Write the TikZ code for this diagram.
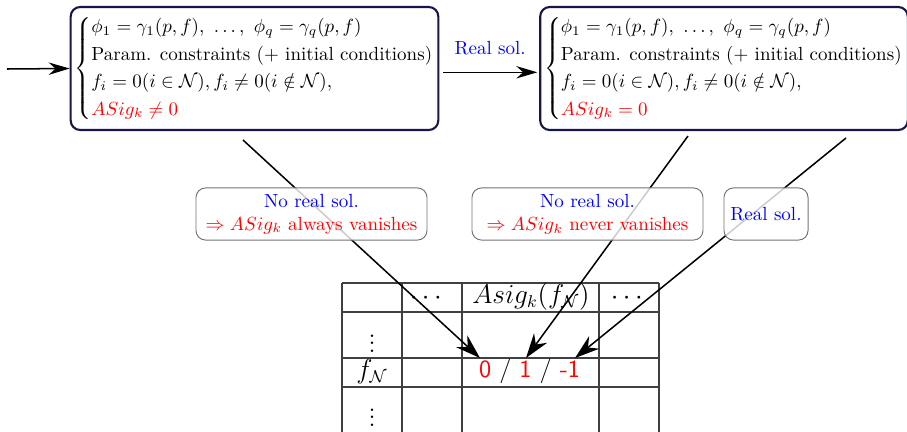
\documentclass[tikz,border=0pt]{standalone}
\usepackage{amsmath}
\usepackage{fontspec}
\usetikzlibrary{arrows.meta}
\definecolor{boxnavy}{rgb}{0.09,0.09,0.28}
\newcommand\mysys[1]{\left\{\def\arraystretch{1.2}\begin{array}{@{}l@{}}#1\end{array}\right.}
\tikzset{
  sysbox/.style={draw=boxnavy, line width=1.1pt, rounded corners=5pt, minimum height=64.7pt, inner sep=2pt},
  lblbox/.style={draw=black!55, line width=0.5pt, rounded corners=5pt, fill=white, fill opacity=0.8, text opacity=1, minimum height=27.4pt, align=center, inner sep=2pt},
  flow/.style={line width=0.8pt, -{Stealth[length=11pt,width=6.5pt]}},
  bigflow/.style={line width=0.8pt, -{Stealth[length=13pt,width=8.5pt]}},
  grid/.style={draw=black!75, line width=0.6pt},
  cell/.style={font=\fontsize{13.5}{16}\selectfont, inner sep=0pt}
}
\begin{document}
\begin{tikzpicture}[x=0.526pt,y=-0.526pt]
\clip (0,0) rectangle (907,431);
% table
\foreach \yy in {283,312,358,387} \draw[grid] (342,\yy) -- (659,\yy);
\foreach \xx in {342,402,462,599,659} \draw[grid] (\xx,283) -- (\xx,440);
\node[cell] (h1) at (428,298) {$\cdots$};
\node[cell] (h2) at (531,297) {$Asig_k(f_{\mathcal{N}})$};
\node[cell] (h3) at (629,298) {$\cdots$};
\node[cell] (r1) at (372,338) {$\vdots$};
\node[cell] (r2) at (372,372) {$f_{\mathcal{N}}$};
\node[cell] (r3) at (372,412) {$\vdots$};
\node[cell, font=\fontsize{13}{15}\selectfont\sffamily] (val) at (529.5,371) {\textcolor{red}{0} / \textcolor{red}{1} / \textcolor{red}{-1}};
% system boxes
\node[sysbox, minimum width=193pt] (b1) at (254.5,68.5) {$\mysys{
\phi_1=\gamma_1(p,f),\ \ldots,\ \phi_q=\gamma_q(p,f)\\
\text{Param. constraints (+ initial conditions)}\\
f_i=0(i\in\mathcal{N}), f_i\neq 0(i\notin\mathcal{N}),\\
\color{red}ASig_k\neq 0}$};
\node[sysbox, minimum width=191.5pt] (b2) at (724,68.5) {$\mysys{
\phi_1=\gamma_1(p,f),\ \ldots,\ \phi_q=\gamma_q(p,f)\\
\text{Param. constraints (+ initial conditions)}\\
f_i=0(i\in\mathcal{N}), f_i\neq 0(i\notin\mathcal{N}),\\
\color{red}ASig_k= 0}$};
\coordinate (in) at (7,69);
\draw[flow] (in) -- (b1.west);
\draw[flow] ([yshift=-2pt,xshift=2pt]b1.east) -- node[above=5.5pt, text=blue] (rs) {Real sol.} ([yshift=-2pt,xshift=-1pt]b2.west);
% diagonal arrows
\coordinate (s1) at (243,140);
\coordinate (s2) at (688,136);
\coordinate (s3) at (846,138);
\coordinate (t0) at (480,358);
\coordinate (t1) at (526,358);
\coordinate (t2) at (575,358);
\draw[bigflow] (s1) -- (t0);
\draw[bigflow] (s2) -- (t1);
\draw[bigflow] (s3) -- (t2);
% labels
\node[lblbox, minimum width=121.5pt] (l1) at (311.5,214) {\textcolor{blue}{No real sol.}\\ \textcolor{red}{$\Rightarrow ASig_k$ always vanishes}};
\node[lblbox, minimum width=121.5pt] (l2) at (587.5,214) {\textcolor{blue}{No real sol.}\\ \textcolor{red}{$\Rightarrow ASig_k$ never vanishes}};
\node[lblbox, minimum width=44.2pt] (l3) at (766,214) {\textcolor{blue}{Real sol.}};
\end{tikzpicture}
\end{document}
